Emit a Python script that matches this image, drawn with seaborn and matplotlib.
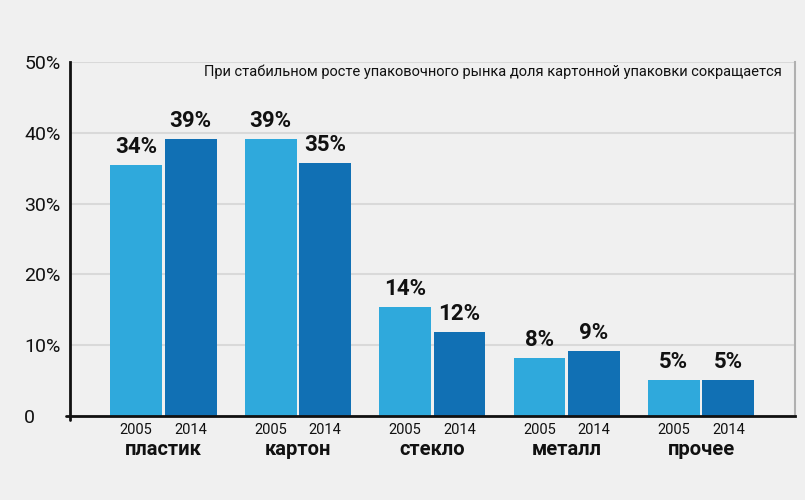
import matplotlib
matplotlib.use("Agg")
import matplotlib.pyplot as plt
import matplotlib.transforms as mtransforms
import pandas as pd
import seaborn as sns

# data
categories = ["пластик", "картон", "стекло", "металл", "прочее"]
years = ["2005", "2014"]
share_2005 = [35.4, 39.1, 15.4, 8.2, 5.1]
share_2014 = [39.1, 35.7, 11.9, 9.2, 5.1]
labels_2005 = ["34%", "39%", "14%", "8%", "5%"]
labels_2014 = ["39%", "35%", "12%", "9%", "5%"]
yticks = [0, 10, 20, 30, 40, 50]
ytick_labels = ["0", "10%", "20%", "30%", "40%", "50%"]
title = "При стабильном росте упаковочного рынка доля картонной упаковки сокращается"

BG = "#f0f0f0"
LIGHT = "#2fa9dc"
DARK = "#1170b4"

sns.set_style("white")
plt.rcParams["font.family"] = ["Roboto", "DejaVu Sans"]

df = pd.DataFrame({
    "category": categories * 2,
    "year": [years[0]] * len(categories) + [years[1]] * len(categories),
    "share": share_2005 + share_2014,
})

fig = plt.figure(figsize=(8.05, 5.0), dpi=100, facecolor=BG)
ax = fig.add_axes([0.087, 0.168, 0.9, 0.708])
ax.set_facecolor(BG)

sns.barplot(
    data=df, x="category", y="share", hue="year",
    order=categories, hue_order=years,
    palette=[LIGHT, DARK], width=0.81, gap=0.05,
    saturation=1, linewidth=0, legend=False, ax=ax,
)

ax.set_xlim(-0.695, len(categories) - 1 + 0.695)
ax.set_ylim(0, 50)
ax.set_yticks(yticks)
ax.set_yticklabels(ytick_labels, fontsize=14, color="#111111", ha="left")
ax.tick_params(axis="y", length=0, pad=33)
ax.set_xlabel("")
ax.set_ylabel("")
ax.grid(axis="y", color="#d9d9d9", lw=1.5)
ax.set_axisbelow(True)

for side in ["left", "bottom"]:
    ax.spines[side].set_color("#111111")
    ax.spines[side].set_linewidth(2)
ax.spines["right"].set_color("#b0b0b0")
ax.spines["right"].set_linewidth(1.5)
ax.spines["top"].set_visible(False)

# small cross at the origin
ax.plot([-0.005, 0], [0, 0], transform=ax.transAxes, color="#111111", lw=2, clip_on=False)
ax.plot([0, 0], [-0.012, 0], transform=ax.transAxes, color="#111111", lw=2, clip_on=False)

# bars in drawing order: all 2005, then all 2014
bars = list(ax.patches)[: 2 * len(categories)]
texts = labels_2005 + labels_2014
centers = []
for bar, txt in zip(bars, texts):
    cx = bar.get_x() + bar.get_width() / 2
    centers.append(cx)
    ax.annotate(txt, (cx, bar.get_height()), xytext=(0, 5), textcoords="offset points",
                ha="center", va="bottom", fontsize=16, fontweight="bold", color="#111111")

ax.set_xticks(centers)
ax.set_xticklabels([years[0]] * len(categories) + [years[1]] * len(categories),
                   fontsize=10.5, color="#111111")
ax.tick_params(axis="x", length=0, pad=5)

trans = mtransforms.blended_transform_factory(ax.transData, ax.transAxes)
for i, cat in enumerate(categories):
    ax.text(i, -0.095, cat, transform=trans, ha="center", va="center",
            fontsize=14.5, fontweight="bold", color="#111111")

ax.text(0.983, 0.992, title, transform=ax.transAxes, ha="right", va="top",
        fontsize=10.5, color="#111111")

fig.savefig("out.png", dpi=100, facecolor=BG)
